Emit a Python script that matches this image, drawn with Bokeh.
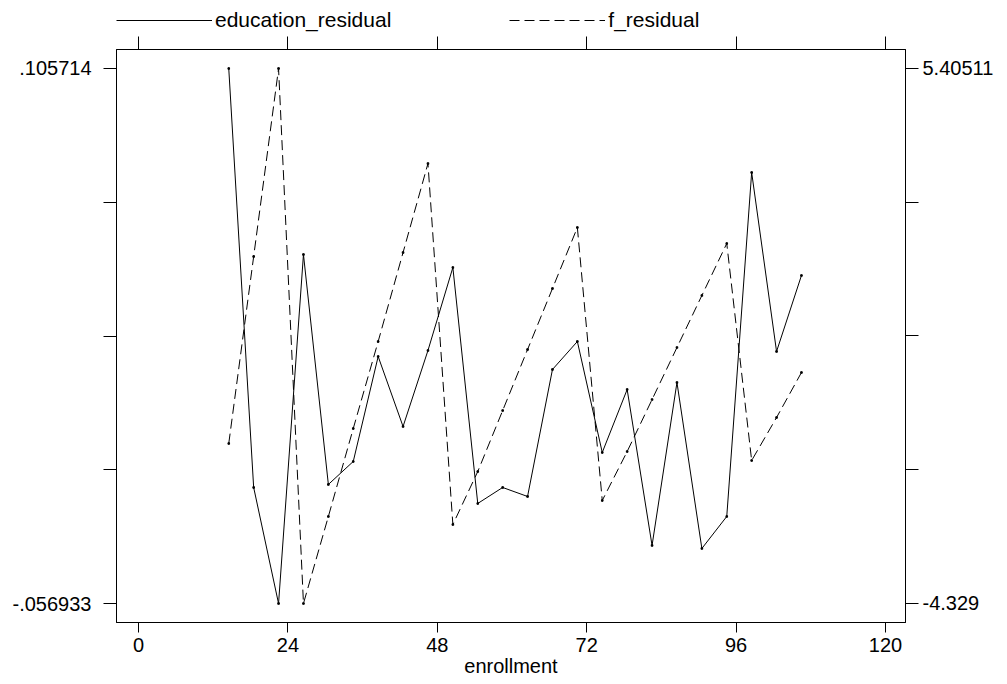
from bokeh.plotting import figure
from bokeh.layouts import column
from bokeh.models import (LinearAxis, Range1d, FixedTicker, Legend, LegendItem)
from bokeh.embed import file_html
from bokeh.resources import INLINE

# ---- data ----
enrollment = [14.5, 18.5, 22.5, 26.5, 30.5, 34.5, 38.5, 42.5, 46.5, 50.5, 54.5, 58.5,
              62.5, 66.5, 70.5, 74.5, 78.5, 82.5, 86.5, 90.5, 94.5, 98.5, 102.5, 106.5]
education_residual = [0.105714, -0.021662, -0.056933, 0.049170, -0.020750, -0.013758,
                      0.018162, -0.003118, 0.019986, 0.045218, -0.026526, -0.021662,
                      -0.024398, 0.014210, 0.022722, -0.011022, 0.008130, -0.039294,
                      0.010258, -0.040206, -0.030478, 0.074098, 0.019682, 0.042786]
f_residual = [-1.418, 1.984, 5.40511, -4.329, -2.746, -1.145, 0.438, 2.057, 3.676,
              -2.892, -1.928, -0.818, 0.292, 1.402, 2.512, -2.455, -1.564, -0.618,
              0.329, 1.275, 2.221, -1.727, -0.945, -0.126]

x_ticks = [0, 24, 48, 72, 96, 120]
left_ticks = [-0.056933, -0.01627125, 0.0243905, 0.06505225, 0.105714]
left_labels = ["-.056933", "", "", "", ".105714"]
right_ticks = [-4.329, -1.8954725, 0.538055, 2.9715825, 5.40511]
right_labels = ["-4.329", "", "", "", "5.40511"]
x_label = "enrollment"
series_names = ["education_residual", "f_residual"]

FONT = "Liberation Sans"
SOLID = dict(line_color="black", line_width=1)
DASHED = dict(line_color="black", line_width=1, line_dash="10 5")

# ---- main plot ----
p = figure(width=1000, height=644,
           min_border_left=116, min_border_right=95,
           min_border_top=13, min_border_bottom=58,
           x_range=Range1d(-3.534, 123.213),
           y_range=Range1d(-0.062709, 0.111490),
           output_backend="svg", toolbar_location=None,
           x_axis_location=None, y_axis_location=None)
p.extra_y_ranges = {"f": Range1d(-4.6747, 5.7508)}
p.xgrid.visible = False
p.ygrid.visible = False
p.outline_line_color = "black"
p.outline_line_width = 1
p.background_fill_color = "white"
p.border_fill_color = "white"

def style_axis(ax, tick_out, standoff):
    ax.major_tick_out = tick_out
    ax.major_tick_in = 0
    ax.minor_tick_out = 0
    ax.minor_tick_in = 0
    ax.major_label_standoff = standoff
    ax.major_label_text_font = FONT
    ax.major_label_text_font_size = "20px"
    ax.major_label_text_color = "black"
    ax.axis_line_color = "black"
    ax.major_tick_line_color = "black"

xb = LinearAxis(ticker=FixedTicker(ticks=x_ticks))
style_axis(xb, 10, 5)
xb.axis_label = x_label
xb.axis_label_text_font = FONT
xb.axis_label_text_font_size = "20px"
xb.axis_label_text_font_style = "normal"
xb.axis_label_text_color = "black"
xb.axis_label_standoff = 0
p.add_layout(xb, "below")

yl = LinearAxis(ticker=FixedTicker(ticks=left_ticks))
style_axis(yl, 13, 12)
yl.major_label_overrides = {t: l for t, l in zip(left_ticks, left_labels)}
p.add_layout(yl, "left")

yr = LinearAxis(y_range_name="f", ticker=FixedTicker(ticks=right_ticks))
style_axis(yr, 13, 4)
yr.major_label_overrides = {t: l for t, l in zip(right_ticks, right_labels)}
p.add_layout(yr, "right")

xt = LinearAxis(ticker=FixedTicker(ticks=x_ticks))
style_axis(xt, 13, 0)
xt.major_label_overrides = {t: "" for t in x_ticks}
xt.major_label_text_font_size = "1px"
p.add_layout(xt, "above")

p.line(enrollment, education_residual, **SOLID)
p.scatter(enrollment, education_residual, size=1.6, marker="square", color="black")
p.line(enrollment, f_residual, y_range_name="f", **DASHED)
p.scatter(enrollment, f_residual, y_range_name="f", size=1.6, marker="square", color="black")

# ---- legend strip above the plot ----
lg = figure(width=1000, height=36, min_border=0,
            x_range=Range1d(0, 1), y_range=Range1d(0, 1),
            output_backend="svg", toolbar_location=None,
            x_axis_location=None, y_axis_location=None)
lg.xgrid.visible = False
lg.ygrid.visible = False
lg.outline_line_color = None
lg.border_fill_color = "white"
nan = float("nan")
lr1 = lg.line(x=[nan], y=[nan], **SOLID)
lr2 = lg.line(x=[nan], y=[nan], **DASHED)
legend = Legend(items=[LegendItem(label=series_names[0], renderers=[lr1]),
                       LegendItem(label=series_names[1], renderers=[lr2])],
                orientation="horizontal", location=(0, 4),
                glyph_width=96, glyph_height=20, label_standoff=3, spacing=118,
                padding=0, margin=0, border_line_color=None,
                background_fill_alpha=0, label_text_font=FONT,
                label_text_font_size="21px", label_text_color="black")
lg.add_layout(legend, "center")

layout = column(lg, p, spacing=0)
open("out.html", "w").write(file_html(layout, INLINE))
